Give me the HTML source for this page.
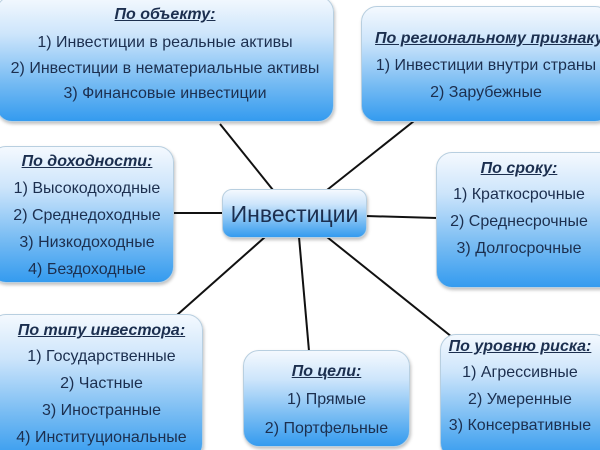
<!DOCTYPE html>
<html><head><meta charset="utf-8"><style>
html,body{margin:0;width:600px;height:450px;overflow:hidden}
body{background:#fff;font-family:"Liberation Sans","DejaVu Sans",sans-serif;color:#1c2f4f;position:relative}
.b{position:absolute;border-radius:16px;background:linear-gradient(to bottom,#f4f9fe 0%,#cde5fb 30%,#78bcf3 68%,#349bef 100%);border:1px solid #b8cfe0;box-shadow:1px 2px 3px rgba(0,0,0,.25);box-sizing:border-box}
.t{position:absolute;left:0;right:0;text-align:center;font-size:16px;white-space:nowrap;line-height:18px}
.h{font-weight:bold;font-style:italic;text-decoration:underline}
svg{position:absolute;left:0;top:0}
</style></head><body>
<svg width="600" height="450"><g stroke="#111" stroke-width="2">
<line x1="273" y1="190" x2="220" y2="124"/>
<line x1="327" y1="190" x2="414" y2="121"/>
<line x1="172" y1="213" x2="223" y2="213"/>
<line x1="366" y1="216" x2="437" y2="218"/>
<line x1="265" y1="237" x2="177" y2="315"/>
<line x1="299" y1="237" x2="309" y2="351"/>
<line x1="327" y1="237" x2="452" y2="337"/>
</g></svg>
<div class="b" style="left:-4px;top:-4px;width:338px;height:126px">
<div class="t h" style="top:9px">По объекту:</div>
<div class="t" style="top:37px">1) Инвестиции в реальные активы</div>
<div class="t" style="top:63px">2) Инвестиции в нематериальные активы</div>
<div class="t" style="top:88px">3) Финансовые инвестиции</div></div>
<div class="b" style="left:361px;top:6px;width:250px;height:116px">
<div class="t h" style="top:23px;left:12px">По региональному признаку:</div>
<div class="t" style="top:50px">1) Инвестиции внутри страны</div>
<div class="t" style="top:77px">2) Зарубежные</div></div>
<div class="b" style="left:-10px;top:146px;width:184px;height:137px">
<div class="t h" style="top:6px;left:10px">По доходности:</div>
<div class="t" style="top:33px;left:10px">1) Высокодоходные</div>
<div class="t" style="top:60px;left:10px">2) Среднедоходные</div>
<div class="t" style="top:87px;left:10px">3) Низкодоходные</div>
<div class="t" style="top:114px;left:10px">4) Бездоходные</div></div>
<div class="b" style="left:222px;top:189px;width:145px;height:49px;border-radius:10px">
<div class="t" style="top:11px;font-size:23px;line-height:26px">Инвестиции</div></div>
<div class="b" style="left:436px;top:152px;width:180px;height:136px">
<div class="t h" style="top:7px;right:14px">По сроку:</div>
<div class="t" style="top:33px;right:14px">1) Краткосрочные</div>
<div class="t" style="top:60px;right:14px">2) Среднесрочные</div>
<div class="t" style="top:87px;right:14px">3) Долгосрочные</div></div>
<div class="b" style="left:-10px;top:314px;width:213px;height:146px">
<div class="t h" style="top:7px;left:10px">По типу инвестора:</div>
<div class="t" style="top:33px;left:10px">1) Государственные</div>
<div class="t" style="top:60px;left:10px">2) Частные</div>
<div class="t" style="top:87px;left:10px">3) Иностранные</div>
<div class="t" style="top:114px;left:10px">4) Институциональные</div></div>
<div class="b" style="left:243px;top:350px;width:167px;height:97px">
<div class="t h" style="top:12px">По цели:</div>
<div class="t" style="top:40px">1) Прямые</div>
<div class="t" style="top:69px">2) Портфельные</div></div>
<div class="b" style="left:440px;top:334px;width:170px;height:125px">
<div class="t h" style="top:3px;right:10px">По уровню риска:</div>
<div class="t" style="top:29px;right:10px">1) Агрессивные</div>
<div class="t" style="top:56px;right:10px">2) Умеренные</div>
<div class="t" style="top:82px;right:10px">3) Консервативные</div></div>
</body></html>
